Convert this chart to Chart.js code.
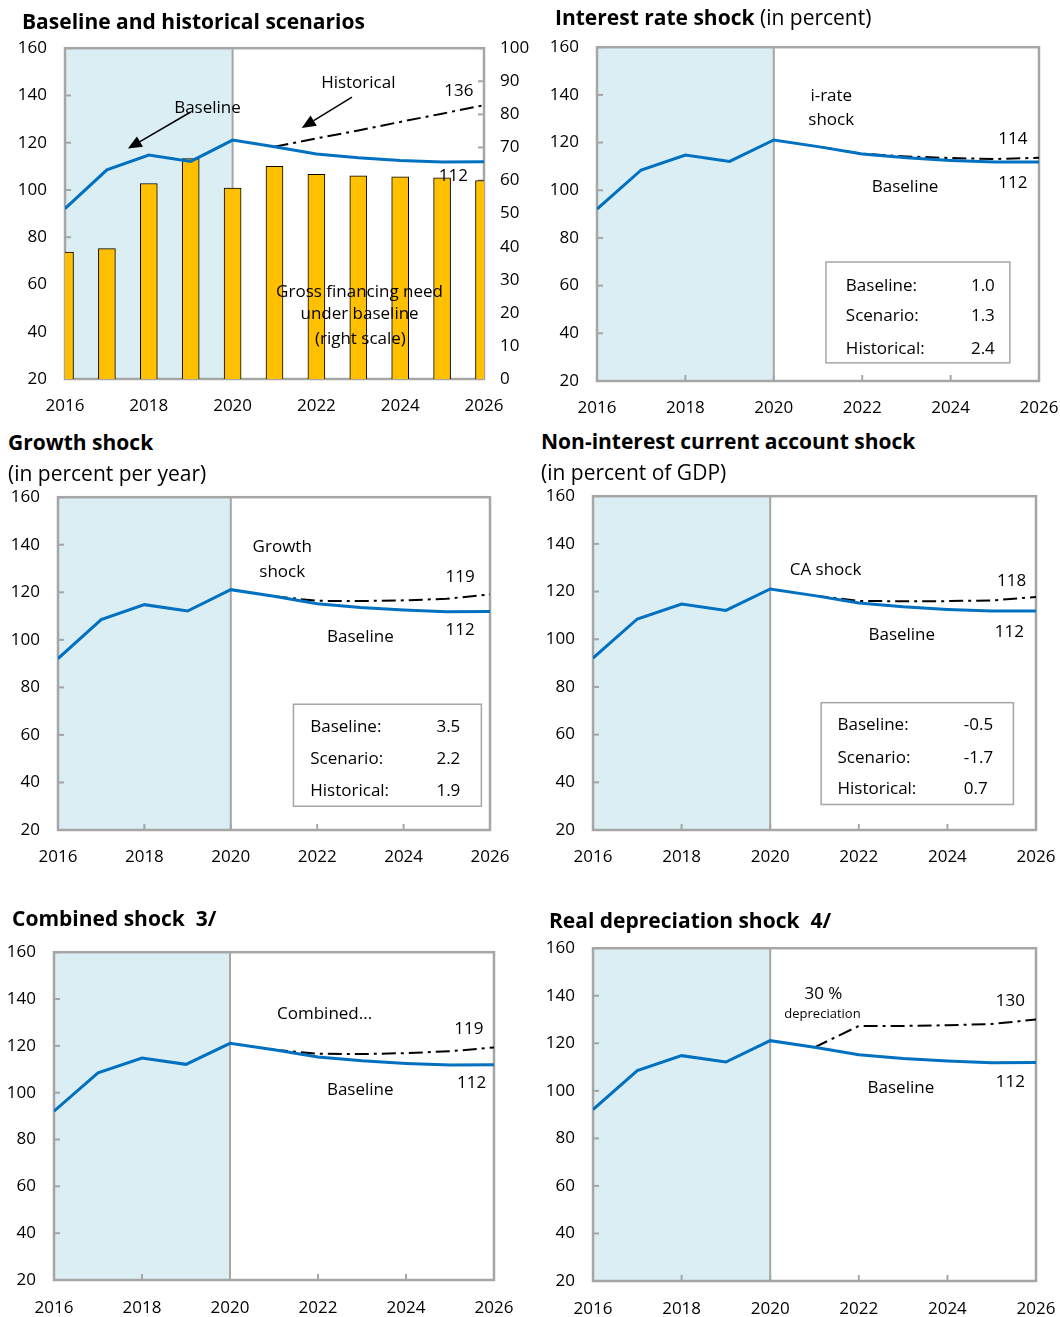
<!DOCTYPE html>
<html>
<head>
<meta charset="utf-8">
<script src="https://cdn.jsdelivr.net/npm/chart.js@4.4.0/dist/chart.umd.min.js"></script>
<style>
  html, body { margin: 0; background: #fff; overflow: hidden; }
  #page { position: relative; width: 1060px; height: 1317px; overflow: hidden; font-family: 'Open Sans', sans-serif; color: #000; }
  canvas { position: absolute; }
  .t { position: absolute; white-space: nowrap; font-size: 21px; line-height: 1; z-index: 2; }
  .t b { font-weight: 700; }
</style>
</head>
<body>
<div id="page">
  <div class="t" style="left:22px;top:11px"><b>Baseline and historical scenarios</b></div>
  <div class="t" style="left:555px;top:7px"><b>Interest rate shock</b> (in percent)</div>
  <div class="t" style="left:8px;top:432px"><b>Growth shock</b></div>
  <div class="t" style="left:8px;top:463px">(in percent per year)</div>
  <div class="t" style="left:541px;top:431px"><b>Non-interest current account shock</b></div>
  <div class="t" style="left:541px;top:462px">(in percent of GDP)</div>
  <div class="t" style="left:12px;top:908px"><b>Combined shock&nbsp; 3/</b></div>
  <div class="t" style="left:549px;top:910px"><b>Real depreciation shock&nbsp; 4/</b></div>

  <canvas id="c1" width="530" height="404" style="left:0;top:20px"></canvas>
  <canvas id="c2" width="550" height="405" style="left:530px;top:19px"></canvas>
  <canvas id="c3" width="530" height="409" style="left:0;top:469px"></canvas>
  <canvas id="c4" width="550" height="410" style="left:530px;top:468px"></canvas>
  <canvas id="c5" width="536" height="393" style="left:0;top:924px"></canvas>
  <canvas id="c6" width="550" height="397" style="left:530px;top:920px"></canvas>
</div>
<script>
// years and tick labels
const years = [2016, 2017, 2018, 2019, 2020, 2021, 2022, 2023, 2024, 2025, 2026];
const yearTicks = [2016, 2018, 2020, 2022, 2024, 2026];
const debtTicks = [20, 40, 60, 80, 100, 120, 140, 160];
const gfnTicks = [0, 10, 20, 30, 40, 50, 60, 70, 80, 90, 100];
const lastActual = 2020;

// debt paths
const baseline = [92.1, 108.5, 114.8, 112.1, 121.1, 118.3, 115.2, 113.6, 112.5, 111.8, 111.9];
const historical = [null, null, null, null, null, 118.3, 121.8, 125.2, 128.8, 132.3, 135.9];
const gfnBaseline = [38.4, 39.4, 59.1, 66.6, 57.7, 64.3, 61.9, 61.4, 61.1, 60.8, 60.0];
const irateShock = [null, null, null, null, null, 118.3, 115.3, 114.2, 113.5, 113.1, 113.6];
const growthShock = [null, null, null, null, null, 118.3, 116.4, 116.3, 116.6, 117.3, 119.1];
const caShock = [null, null, null, null, null, 118.3, 116.1, 115.9, 116.0, 116.3, 117.7];
const combinedShock = [null, null, null, null, null, 118.3, 116.6, 116.5, 116.9, 117.7, 119.3];
const deprShock = [null, null, null, null, null, 118.3, 127.3, 127.3, 127.6, 128.1, 130.0];

// box statistics
const statNames = ['Baseline:', 'Scenario:', 'Historical:'];
const irateStats = ['1.0', '1.3', '2.4'];
const growthStats = ['3.5', '2.2', '1.9'];
const caStats = ['-0.5', '-1.7', '0.7'];

Chart.defaults.font.family = "'Open Sans', sans-serif";
Chart.defaults.font.size = 17;
Chart.defaults.color = '#000';

const GRAY = '#A6A6A6';

function fixedTicks(list) {
  return scale => { scale.ticks = list.map(v => ({ value: v })); };
}

function line(ctx, x0, y0, x1, y1) {
  ctx.beginPath(); ctx.moveTo(x0, y0); ctx.lineTo(x1, y1); ctx.stroke();
}

const panelPlugin = {
  id: 'panel',
  beforeDatasetsDraw(chart) {
    const { ctx, chartArea: a, scales } = chart;
    const x = scales.x, y = scales.y;
    ctx.save();
    const xs = x.getPixelForValue(years[0]);
    const xe = x.getPixelForValue(lastActual);
    ctx.fillStyle = '#DAEEF3';
    ctx.fillRect(xs, a.top, xe - xs, a.bottom - a.top);
    ctx.strokeStyle = GRAY;
    ctx.lineWidth = 2;
    line(ctx, xe, a.top, xe, a.bottom);
    yearTicks.forEach(v => {
      const px = x.getPixelForValue(v);
      line(ctx, px, a.bottom, px, a.bottom - 6);
    });
    debtTicks.forEach(v => {
      const py = y.getPixelForValue(v);
      line(ctx, a.left, py, a.left + 6, py);
    });
    if (scales.y2) {
      gfnTicks.forEach(v => {
        const py = scales.y2.getPixelForValue(v);
        line(ctx, a.right, py, a.right - 6, py);
      });
    }
    ctx.lineWidth = 2.5;
    ctx.strokeRect(a.left, a.top, a.right - a.left, a.bottom - a.top);
    ctx.restore();
  },
  afterDatasetsDraw(chart, args, opts) {
    const { ctx, scales: { x, y } } = chart;
    ctx.save();
    ctx.fillStyle = '#000';
    ctx.textBaseline = 'middle';
    (opts.notes || []).forEach(n => {
      ctx.font = (n.size || 17) + "px 'Open Sans', sans-serif";
      ctx.textAlign = 'center';
      ctx.fillText(n.text, x.getPixelForValue(n.x), y.getPixelForValue(n.y));
    });
    (opts.arrows || []).forEach(ar => {
      const x0 = x.getPixelForValue(ar.from[0]), y0 = y.getPixelForValue(ar.from[1]);
      const x1 = x.getPixelForValue(ar.to[0]), y1 = y.getPixelForValue(ar.to[1]);
      const ang = Math.atan2(y1 - y0, x1 - x0);
      const hl = 14, hw = 6;
      const bx = x1 - hl * Math.cos(ang), by = y1 - hl * Math.sin(ang);
      ctx.strokeStyle = '#000';
      ctx.lineWidth = 1.5;
      line(ctx, x0, y0, bx, by);
      ctx.beginPath();
      ctx.moveTo(x1, y1);
      ctx.lineTo(bx + hw * Math.sin(ang), by - hw * Math.cos(ang));
      ctx.lineTo(bx - hw * Math.sin(ang), by + hw * Math.cos(ang));
      ctx.closePath();
      ctx.fill();
    });
    const b = opts.box;
    if (b) {
      const bl = x.getPixelForValue(b.x0), br = x.getPixelForValue(b.x1);
      const bt = y.getPixelForValue(b.yTop), bb = y.getPixelForValue(b.yBottom);
      ctx.fillStyle = '#fff';
      ctx.fillRect(bl, bt, br - bl, bb - bt);
      ctx.strokeStyle = GRAY;
      ctx.lineWidth = 1.5;
      ctx.strokeRect(bl, bt, br - bl, bb - bt);
      ctx.fillStyle = '#000';
      ctx.font = "17px 'Open Sans', sans-serif";
      ctx.textAlign = 'left';
      statNames.forEach((name, i) => {
        const py = y.getPixelForValue(b.rows[i]);
        ctx.fillText(name, x.getPixelForValue(b.labelX), py);
        ctx.fillText(b.values[i], x.getPixelForValue(b.valueX), py);
      });
    }
    ctx.restore();
  }
};
Chart.register(panelPlugin);

function xScale(h, pad) {
  return {
    type: 'linear', min: 2016, max: 2026, offset: false,
    grid: { display: false, drawTicks: false }, border: { display: false },
    ticks: { padding: pad, maxRotation: 0, autoSkip: false, callback: v => String(v) },
    afterBuildTicks: fixedTicks(yearTicks),
    afterFit: s => { s.height = h; }
  };
}

function yScale(w, position, list, min, max, pad) {
  return {
    type: 'linear', position, min, max,
    grid: { display: false, drawTicks: false }, border: { display: false },
    ticks: { padding: pad, callback: v => String(v) },
    afterBuildTicks: fixedTicks(list),
    afterFit: s => { s.width = w; }
  };
}

function baseLine() {
  return { type: 'line', data: baseline, borderColor: '#0070C0', borderWidth: 3,
           pointRadius: 0, tension: 0, order: 0, yAxisID: 'y' };
}
function shockLine(values) {
  return { type: 'line', data: values, borderColor: '#000', borderWidth: 2,
           borderDash: [14, 5, 3, 5], pointRadius: 0, tension: 0, order: 1, yAxisID: 'y' };
}

function makePanel(id, cfg) {
  const scales = { x: xScale(cfg.xh, cfg.xpad || 17), y: yScale(cfg.yw, 'left', debtTicks, 20, 160, 18) };
  if (cfg.right) scales.y2 = yScale(cfg.right, 'right', gfnTicks, 0, 100, 16);
  new Chart(document.getElementById(id), {
    type: 'line',
    data: { labels: years, datasets: cfg.datasets },
    options: {
      responsive: false,
      animation: false,
      layout: { padding: cfg.pad },
      scales,
      plugins: {
        legend: { display: false },
        tooltip: { enabled: false },
        panel: { notes: cfg.notes, arrows: cfg.arrows, box: cfg.box }
      }
    }
  });
}

makePanel('c1', {
  pad: { left: 5, top: 0, right: 0, bottom: 5 }, yw: 60, xh: 40, right: 46,
  datasets: [
    baseLine(),
    shockLine(historical),
    { type: 'bar', data: gfnBaseline, yAxisID: 'y2', backgroundColor: '#FFC000',
      borderColor: '#000', borderWidth: 1, barThickness: 17, clip: 0, order: 2 }
  ],
  notes: [
    { text: 'Historical', x: 2023.0, y: 145 },
    { text: '136', x: 2025.4, y: 142 },
    { text: 'Baseline', x: 2019.4, y: 134.8 },
    { text: '112', x: 2025.27, y: 106 },
    { text: 'Gross financing need', x: 2023.03, y: 56.6 },
    { text: 'under baseline', x: 2023.03, y: 47.5 },
    { text: '(right scale)', x: 2023.05, y: 36.8 }
  ],
  arrows: [
    { from: [2019.0, 133], to: [2017.5, 117.5] },
    { from: [2022.85, 139.3], to: [2021.65, 126.2] }
  ]
});

makePanel('c2', {
  pad: { left: 7, top: 0, right: 41, bottom: 3 }, yw: 60, xh: 40,
  datasets: [baseLine(), shockLine(irateShock)],
  notes: [
    { text: 'i-rate', x: 2021.3, y: 139.4 },
    { text: 'shock', x: 2021.3, y: 129.6 },
    { text: '114', x: 2025.41, y: 121.5 },
    { text: 'Baseline', x: 2022.97, y: 101.2 },
    { text: '112', x: 2025.41, y: 102.9 }
  ],
  box: { x0: 2021.18, x1: 2025.34, yTop: 69.9, yBottom: 27.6,
         labelX: 2021.63, valueX: 2024.46, rows: [59.9, 47.3, 33.3], values: irateStats }
});

makePanel('c3', {
  pad: { left: 8, top: 0, right: 40, bottom: 8 }, yw: 50, xh: 40,
  datasets: [baseLine(), shockLine(growthShock)],
  notes: [
    { text: 'Growth', x: 2021.19, y: 139 },
    { text: 'shock', x: 2021.19, y: 128.5 },
    { text: '119', x: 2025.31, y: 126.4 },
    { text: 'Baseline', x: 2023.0, y: 101.2 },
    { text: '112', x: 2025.31, y: 104 }
  ],
  box: { x0: 2021.45, x1: 2025.8, yTop: 72.9, yBottom: 30,
         labelX: 2021.84, valueX: 2024.76, rows: [63.4, 50, 36.5], values: growthStats }
});

makePanel('c4', {
  pad: { left: 13, top: 0, right: 44, bottom: 8 }, yw: 50, xh: 40,
  datasets: [baseLine(), shockLine(caShock)],
  notes: [
    { text: 'CA shock', x: 2021.25, y: 129.1 },
    { text: '118', x: 2025.45, y: 124.4 },
    { text: 'Baseline', x: 2022.97, y: 101.6 },
    { text: '112', x: 2025.4, y: 103 }
  ],
  box: { x0: 2021.15, x1: 2025.49, yTop: 73.4, yBottom: 30.7,
         labelX: 2021.52, valueX: 2024.37, rows: [63.9, 50.2, 37.1], values: caStats }
});

makePanel('c5', {
  pad: { left: 4, top: 0, right: 42, bottom: 0 }, yw: 50, xh: 37, xpad: 18,
  datasets: [baseLine(), shockLine(combinedShock)],
  notes: [
    { text: 'Combined...', x: 2022.15, y: 133.7 },
    { text: '119', x: 2025.43, y: 127 },
    { text: 'Baseline', x: 2022.96, y: 101 },
    { text: '112', x: 2025.49, y: 104.1 }
  ]
});

makePanel('c6', {
  pad: { left: 13, top: 0, right: 44, bottom: 0 }, yw: 50, xh: 36, xpad: 18,
  datasets: [baseLine(), shockLine(deprShock)],
  notes: [
    { text: '30 %', x: 2021.2, y: 140.8 },
    { text: 'depreciation', x: 2021.18, y: 132.3, size: 13 },
    { text: '130', x: 2025.42, y: 137.7 },
    { text: 'Baseline', x: 2022.95, y: 101 },
    { text: '112', x: 2025.42, y: 103.8 }
  ]
});
</script>
</body>
</html>
